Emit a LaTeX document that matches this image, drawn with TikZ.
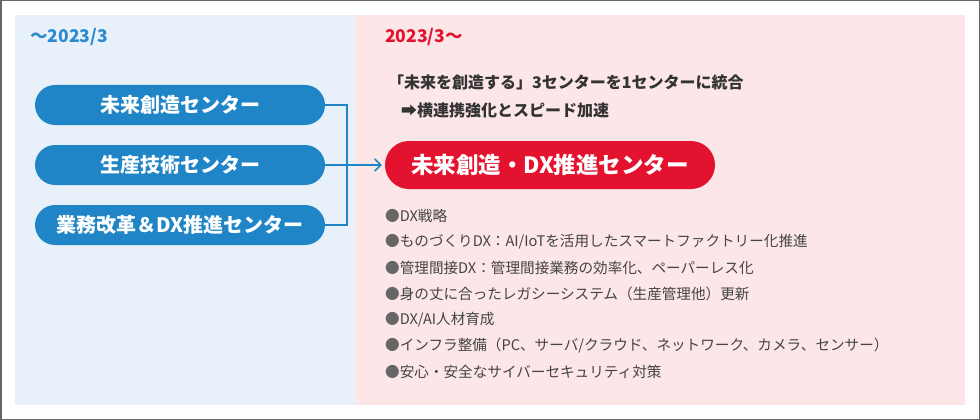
\documentclass[tikz,border=0pt]{standalone}
\usepackage{fontspec}
\setmainfont{Noto Sans CJK JP}
\usetikzlibrary{arrows.meta}
\definecolor{frame}{HTML}{666666}
\definecolor{bluebg}{HTML}{E8F1F9}
\definecolor{pinkbg}{HTML}{FCE6E8}
\definecolor{pillblue}{HTML}{2085C7}
\definecolor{headblue}{HTML}{2A8AD0}
\definecolor{pillred}{HTML}{E3132F}
\definecolor{txt}{HTML}{333333}
\definecolor{btxt}{HTML}{444444}
\tikzset{
  oldpill/.style={fill=pillblue, text=white, rounded corners=20pt, minimum width=290pt, minimum height=40pt, inner sep=0pt, font=\bfseries\fontsize{20}{20}\selectfont},
  newpill/.style={fill=pillred, text=white, rounded corners=24pt, minimum width=330pt, minimum height=48pt, inner sep=0pt, font=\bfseries\fontsize{22.5}{22.5}\selectfont},
  conn/.style={draw=pillblue, line width=1.5pt},
  bullet/.style={anchor=west, inner sep=0pt, text=btxt, font=\fontsize{14.6}{14.6}\selectfont},
  head/.style={anchor=west, inner sep=0pt, font=\bfseries\fontsize{17.5}{17.5}\selectfont},
  sub/.style={anchor=west, inner sep=0pt, text=txt, font=\bfseries\fontsize{16}{16}\selectfont}
}
\newcommand{\bul}{\textcolor{frame}{●}}
\begin{document}
\begin{tikzpicture}[x=1pt,y=-1pt]
\useasboundingbox (0,0) rectangle (980,420);
\fill[white] (0,0) rectangle (980,420);
\draw[frame, line width=1.5pt] (0.75,0.75) rectangle (979.25,419.25);
\fill[bluebg] (15,15) rectangle (355,405);
\fill[pinkbg] (355,15) rectangle (965,405);

\node[head, text=headblue] (h1) at (30,37) {～2023/3};
\node[head, text=pillred] (h2) at (385,37) {2023/3～};

\node[oldpill] (p1) at (180,105) {未来創造センター};
\node[oldpill] (p2) at (180,165) {生産技術センター};
\node[oldpill] (p3) at (180,225) {業務改革＆DX推進センター};

\node[sub] (s1) at (388,82) {「未来を創造する」3センターを1センターに統合};
\node[sub] (s2) at (401,110) {➡横連携強化とスピード加速};

\node[newpill] (r) at (550,165) {未来創造・DX推進センター};

\coordinate (j) at (347,165);
\draw[conn] (p1.east) -| (j);
\draw[conn] (p3.east) -| (j);
\draw[conn, -{Straight Barb[length=6pt, width=12pt, line width=1.5pt]}, shorten >=3pt] (p2.east) -- (r.west);

\node[bullet] (b1) at (385,215.5) {\bul DX戦略};
\node[bullet] (b2) at (385,241.5) {\bul ものづくりDX：AI/IoTを活用したスマートファクトリー化推進};
\node[bullet] (b3) at (385,267.5) {\bul 管理間接DX：管理間接業務の効率化、ペーパーレス化};
\node[bullet] (b4) at (385,293.5) {\bul 身の丈に合ったレガシーシステム（生産管理他）更新};
\node[bullet] (b5) at (385,319.5) {\bul DX/AI人材育成};
\node[bullet] (b6) at (385,345.5) {\bul インフラ整備（PC、サーバ/クラウド、ネットワーク、カメラ、センサー）};
\node[bullet] (b7) at (385,371.5) {\bul 安心・安全なサイバーセキュリティ対策};
\end{tikzpicture}
\end{document}
